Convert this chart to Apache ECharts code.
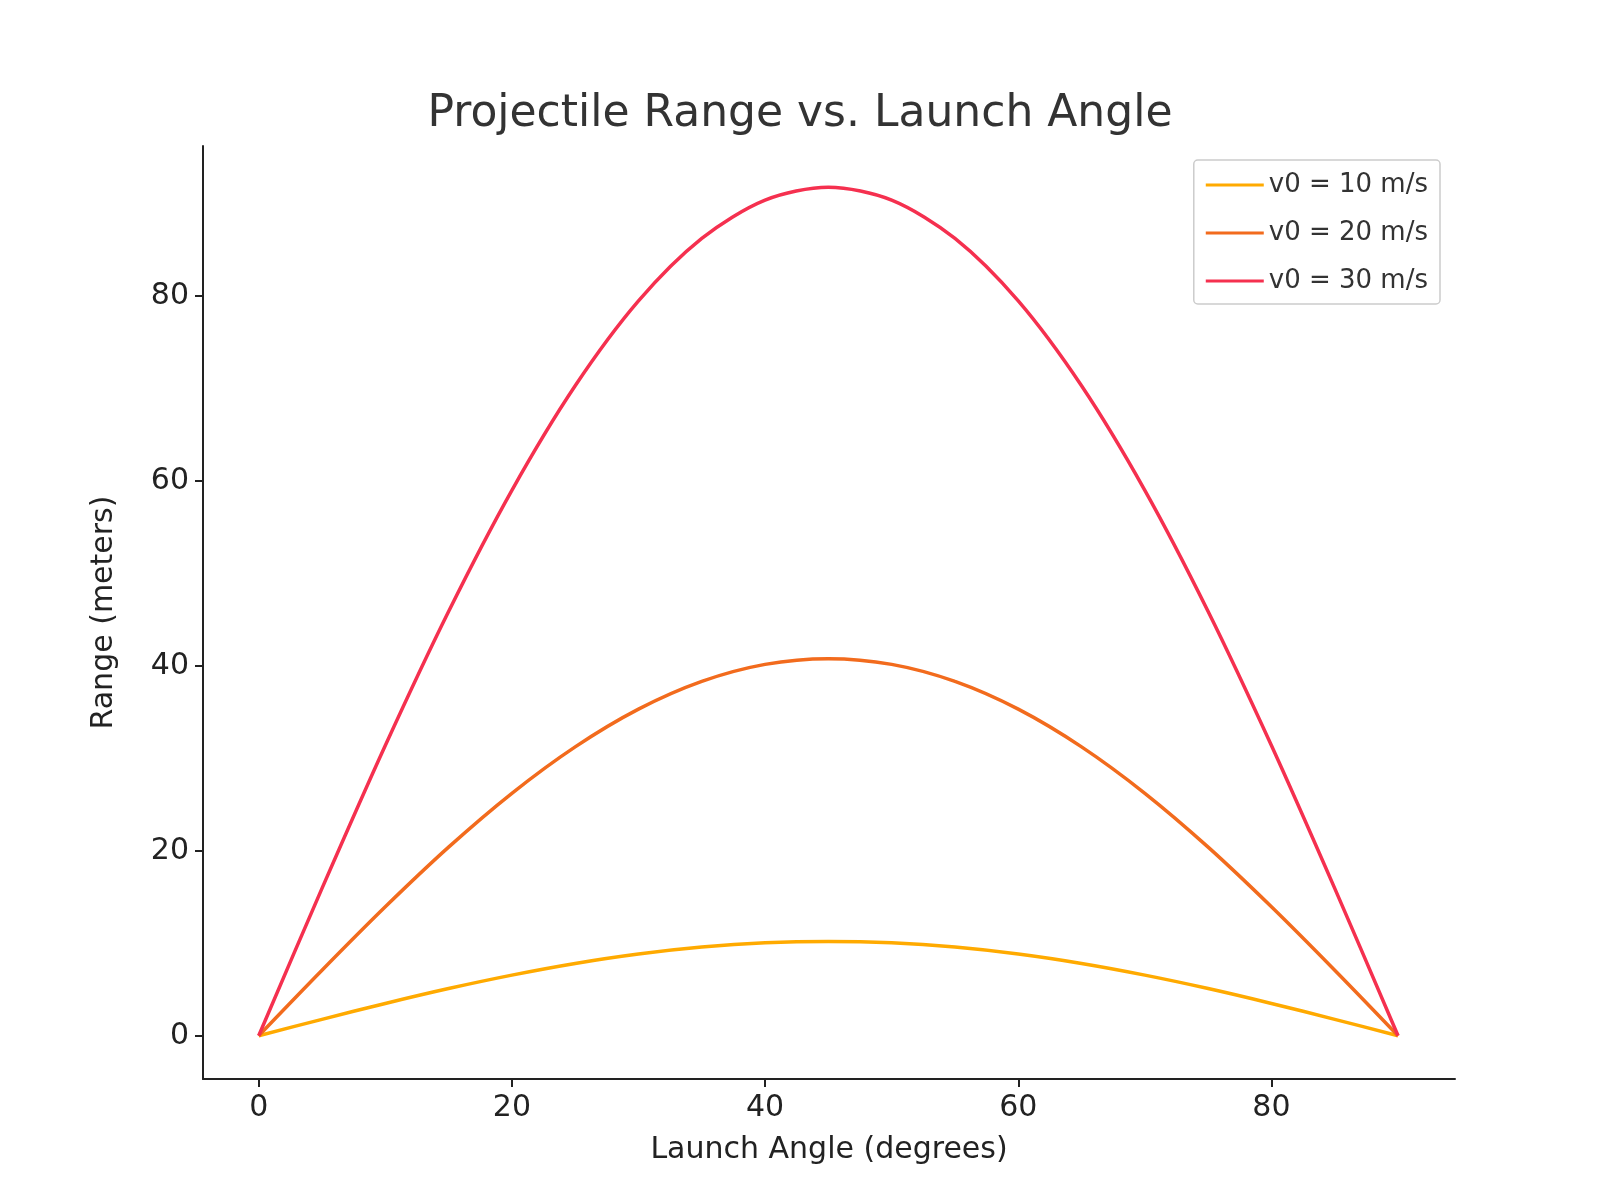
<!DOCTYPE html>
<html><head><meta charset="utf-8">
<script src="https://cdn.jsdelivr.net/npm/echarts@6/dist/echarts.min.js"></script>
<style>html,body{margin:0;padding:0;background:#fff}#c{width:1600px;height:1200px}</style>
</head><body><div id="c"></div>
<script>
const angles = [0,5,10,15,20,25,30,35,40,45,50,55,60,65,70,75,80,85,90];
const v10 = [0,1.77,3.49,5.10,6.55,7.81,8.83,9.58,10.04,10.19,10.04,9.58,8.83,7.81,6.55,5.10,3.49,1.77,0];
const v20 = [0,7.08,13.94,20.39,26.21,31.23,35.31,38.31,40.15,40.77,40.15,38.31,35.31,31.23,26.21,20.39,13.94,7.08,0];
const v30 = [0,15.93,31.38,45.87,58.97,70.27,79.45,86.21,90.35,91.74,90.35,86.21,79.45,70.27,58.97,45.87,31.38,15.93,0];
const xTicks = [0,20,40,60,80];
const yTicks = [0,20,40,60,80];
const names = ['v0 = 10 m/s','v0 = 20 m/s','v0 = 30 m/s'];
const colors = ['#FFAA00','#F26B1D','#F5304F'];
const font = 'DejaVu Sans';
const pair = a => angles.map((x,i)=>[x,a[i]]);
const chart = echarts.init(document.getElementById('c'));
chart.setOption({
  animation:false,
  title:{text:'Projectile Range vs. Launch Angle',left:'center',top:88,textStyle:{fontFamily:font,fontSize:44,fontWeight:'normal',color:'#333'}},
  legend:{right:160,top:160,orient:'vertical',itemWidth:58,itemHeight:3,itemGap:22,icon:'rect',
    borderColor:'#ccc',borderWidth:1.5,borderRadius:4,padding:[12,12,10,12],
    textStyle:{fontFamily:font,fontSize:26,color:'#333'},data:names},
  grid:{left:203,right:145,top:146,bottom:121},
  xAxis:{type:'value',min:-4.4,max:94.5,name:'Launch Angle (degrees)',nameLocation:'middle',nameGap:56,
    nameTextStyle:{fontFamily:font,fontSize:30,color:'#222'},
    axisLine:{onZero:false,lineStyle:{color:'#222',width:2}},splitLine:{show:false},
    axisTick:{customValues:xTicks,length:8,lineStyle:{color:'#222',width:2}},
    axisLabel:{customValues:xTicks,fontFamily:font,fontSize:30,color:'#222',margin:14}},
  yAxis:{type:'value',min:-4.68,max:96.2,name:'Range (meters)',nameLocation:'middle',nameGap:84,
    nameTextStyle:{fontFamily:font,fontSize:30,color:'#222'},
    axisLine:{show:true,onZero:false,lineStyle:{color:'#222',width:2}},splitLine:{show:false},
    axisTick:{show:true,customValues:yTicks,length:8,lineStyle:{color:'#222',width:2}},
    axisLabel:{customValues:yTicks,fontFamily:font,fontSize:30,color:'#222',margin:14}},
  series:[v10,v20,v30].map((d,i)=>({name:names[i],type:'line',data:pair(d),smooth:0.3,showSymbol:false,
    lineStyle:{width:3.5,color:colors[i]},itemStyle:{color:colors[i]}}))
});
</script></body></html>
